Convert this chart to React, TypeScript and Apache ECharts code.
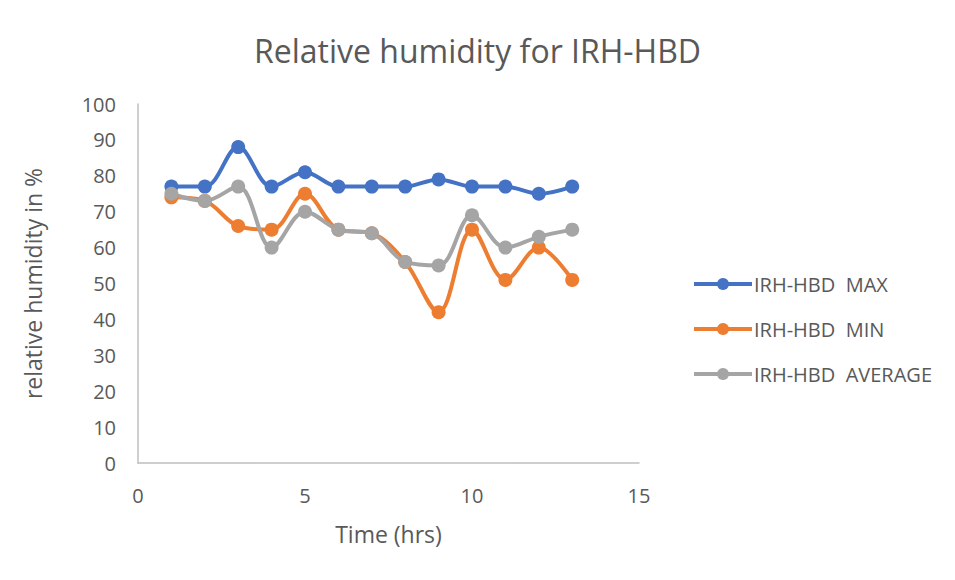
import React, { useEffect, useRef } from "react";
import * as echarts from "echarts";

const hours = [1, 2, 3, 4, 5, 6, 7, 8, 9, 10, 11, 12, 13];
const maxValues = [77, 77, 88, 77, 81, 77, 77, 77, 79, 77, 77, 75, 77];
const minValues = [74, 73, 66, 65, 75, 65, 64, 56, 42, 65, 51, 60, 51];
const avgValues = [75, 73, 77, 60, 70, 65, 64, 56, 55, 69, 60, 63, 65];
const seriesNames = ["IRH-HBD  MAX", "IRH-HBD  MIN", "IRH-HBD  AVERAGE"];
const colors = ["#4472C4", "#ED7D31", "#A5A5A5"];

const FONT = "'Open Sans', 'Noto Sans', sans-serif";

export default function App() {
  const ref = useRef<HTMLDivElement>(null);
  useEffect(() => {
    if (!ref.current) return;
    const chart = echarts.init(ref.current, undefined, { renderer: "svg" });
    const all = [maxValues, minValues, avgValues];
    chart.setOption({
      animation: false,
      backgroundColor: "#ffffff",
      textStyle: { fontFamily: FONT },
      title: {
        text: "Relative humidity for IRH-HBD",
        left: "center",
        top: 29,
        textStyle: { fontFamily: FONT, fontSize: 32, fontWeight: "normal", color: "#595959" },
      },
      legend: {
        orient: "vertical",
        left: 687,
        top: 269,
        itemGap: 25,
        itemWidth: 58,
        itemHeight: 15,
        lineStyle: { width: 4 },
        textStyle: { fontFamily: FONT, fontSize: 20, color: "#595959", padding: [0, 0, 0, -3] },
        data: seriesNames,
      },
      grid: { left: 138, right: 316, top: 104, bottom: 117 },
      xAxis: {
        type: "value",
        min: 0,
        max: 15,
        interval: 5,
        name: "Time (hrs)",
        nameLocation: "middle",
        nameGap: 59,
        nameTextStyle: { fontFamily: FONT, fontSize: 23, color: "#595959" },
        axisLine: { lineStyle: { color: "#bfbfbf", width: 1.5 } },
        axisTick: { show: false },
        splitLine: { show: false },
        axisLabel: { fontFamily: FONT, fontSize: 20, color: "#595959", margin: 22 },
      },
      yAxis: {
        type: "value",
        min: 0,
        max: 100,
        interval: 10,
        name: "relative humidity in %",
        nameLocation: "middle",
        nameGap: 94,
        nameTextStyle: { fontFamily: FONT, fontSize: 23, color: "#595959" },
        axisLine: { show: true, lineStyle: { color: "#bfbfbf", width: 1.5 } },
        axisTick: { show: false },
        splitLine: { show: false },
        axisLabel: { fontFamily: FONT, fontSize: 20, color: "#595959", margin: 22 },
      },
      series: seriesNames.map((name, i) => ({
        name,
        type: "line",
        smooth: 0.35,
        symbol: "circle",
        symbolSize: 14,
        lineStyle: { width: 4, color: colors[i] },
        itemStyle: { color: colors[i] },
        data: hours.map((h, j) => [h, all[i][j]]),
      })),
    });
    return () => chart.dispose();
  }, []);
  return (
    <div style={{ position: "relative", width: 955, height: 580, margin: -8, overflow: "hidden" }}>
      <div ref={ref} style={{ position: "absolute", left: 0, top: 0, width: 955, height: 580 }} />
      <div
        style={{
          position: "absolute",
          left: 4,
          top: 5,
          width: 960,
          height: 600,
          border: "2px solid #d6d6d6",
          pointerEvents: "none",
        }}
      />
    </div>
  );
}
